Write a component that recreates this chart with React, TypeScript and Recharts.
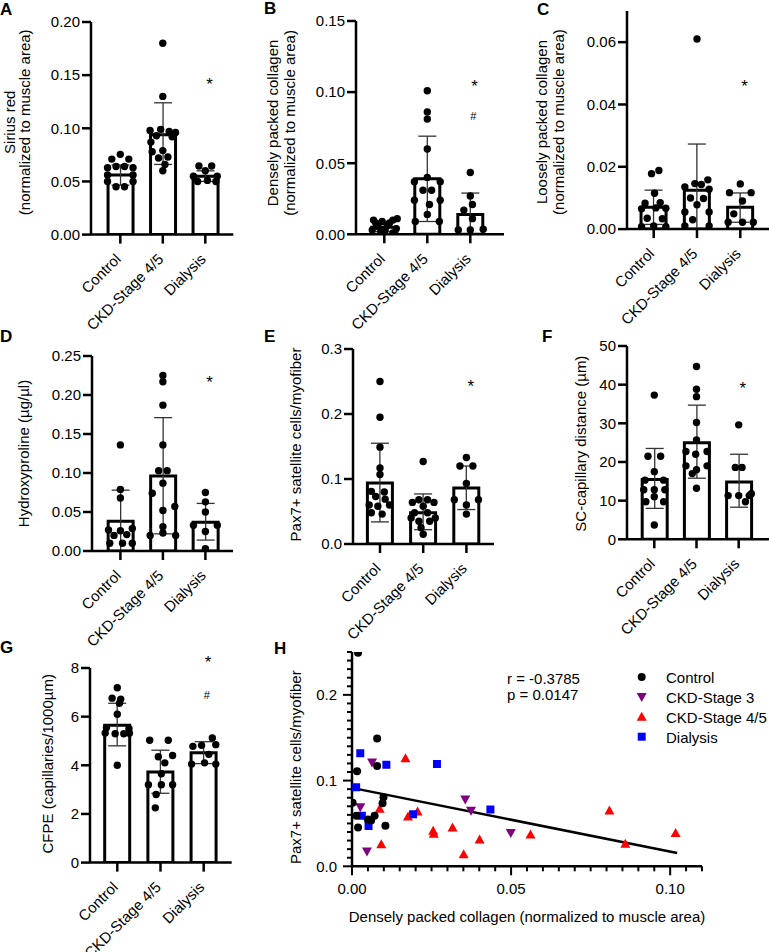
import React from 'react';
import { ComposedChart, Bar, ErrorBar, Scatter, XAxis, YAxis, Label, ReferenceLine, ReferenceDot } from 'recharts';

type Pt = [number, number];

const FONT = '"Liberation Sans", Arial, Helvetica, sans-serif';
const CATEGORIES = ['Control', 'CKD-Stage 4/5', 'Dialysis'];

// ---------- Panel A: Sirius red ----------
const A_MEAN = [0.056, 0.094, 0.055];
const A_LO = [0.0095, 0.028, 0.005];
const A_HI = [0.0095, 0.030, 0.005];
const A_CONTROL: Pt[] = [[0, 0.0755], [-0.2, 0.071], [0.2, 0.071], [-0.3, 0.063], [-0.1, 0.064], [0.1, 0.064], [0.3, 0.063], [-0.3, 0.056], [0.3, 0.056], [-0.3, 0.05], [0.3, 0.05], [-0.1, 0.045], [0.1, 0.045]];
const A_CKD: Pt[] = [[0, 0.18], [0, 0.13], [-0.3, 0.098], [-0.05, 0.099], [0.15, 0.097], [0.3, 0.096], [-0.15, 0.093], [0.22, 0.092], [-0.28, 0.087], [-0.25, 0.078], [0, 0.079], [-0.1, 0.072], [0.12, 0.073], [0.05, 0.066], [0, 0.06]];
const A_DIAL: Pt[] = [[-0.15, 0.0645], [0.15, 0.0645], [0, 0.06], [-0.28, 0.055], [0.28, 0.055], [-0.18, 0.05], [0.05, 0.051], [0.25, 0.05]];
const A_MARKS = [{ x: 2.1, y: 0.145, t: '*' }];

// ---------- Panel B: Densely packed collagen ----------
const B_MEAN = [0.005, 0.039, 0.014];
const B_LO = [0.003, 0.03, 0.014];
const B_HI = [0.003, 0.03, 0.015];
const B_CONTROL: Pt[] = [[-0.25, 0.01], [-0.05, 0.009], [0.2, 0.01], [0.3, 0.011], [-0.15, 0.0055], [0.08, 0.0065], [-0.28, 0.003], [-0.08, 0.002], [0.2, 0.001], [0.02, 0.0035], [0.28, 0.004], [-0.2, 0.008], [0.12, 0.008], [0, 0.001]];
const B_CKD: Pt[] = [[0, 0.101], [0, 0.086], [0, 0.081], [0, 0.06], [0, 0.04], [-0.3, 0.037], [0.3, 0.037], [-0.1, 0.031], [0.1, 0.031], [-0.3, 0.024], [0.3, 0.024], [0.05, 0.021], [0, 0.014], [-0.28, 0.009], [0.28, 0.009]];
const B_DIAL: Pt[] = [[0, 0.0435], [0, 0.027], [0.05, 0.021], [-0.15, 0.017], [0.05, 0.011], [-0.28, 0.003], [0, 0.003], [0.3, 0.0035]];
const B_MARKS = [{ x: 2.1, y: 0.107, t: '*' }, { x: 2.07, y: 0.083, t: '#' }];

// ---------- Panel C: Loosely packed collagen ----------
const C_MEAN = [0.007, 0.0125, 0.007];
const C_LO = [0.0055, 0.0125, 0.0048];
const C_HI = [0.0055, 0.0148, 0.0046];
const C_CONTROL: Pt[] = [[-0.05, 0.0178], [0.12, 0.0188], [0.02, 0.0115], [-0.2, 0.0083], [0.15, 0.0085], [-0.28, 0.0065], [0.05, 0.0068], [0.28, 0.0067], [-0.15, 0.0035], [0.2, 0.0033], [-0.28, 0.0008], [0, 0.001], [0.28, 0.0008]];
const C_CKD: Pt[] = [[0, 0.061], [0.25, 0.0158], [-0.05, 0.0146], [0.1, 0.0143], [-0.28, 0.0135], [0.28, 0.0128], [-0.15, 0.01], [0.15, 0.0098], [0, 0.0078], [-0.28, 0.0055], [0.28, 0.0055], [-0.1, 0.003], [-0.28, 0.001], [0.28, 0.001]];
const C_DIAL: Pt[] = [[0, 0.0145], [-0.25, 0.0117], [0.25, 0.0117], [0.05, 0.009], [-0.15, 0.0049], [-0.28, 0.0022], [0.05, 0.0022], [0.3, 0.0022]];
const C_MARKS = [{ x: 2.1, y: 0.047, t: '*' }];

// ---------- Panel D: Hydroxyproline ----------
const D_MEAN = [0.038, 0.096, 0.037];
const D_LO = [0.038, 0.074, 0.023];
const D_HI = [0.04, 0.075, 0.024];
const D_CONTROL: Pt[] = [[0, 0.136], [0, 0.079], [0, 0.068], [-0.28, 0.027], [0, 0.026], [0.28, 0.029], [-0.15, 0.02], [0.15, 0.021], [-0.25, 0.01], [0.28, 0.01], [0.05, 0.01]];
const D_CKD: Pt[] = [[0, 0.225], [0, 0.217], [0, 0.187], [0, 0.136], [-0.1, 0.103], [0.1, 0.103], [0, 0.087], [-0.25, 0.074], [0.28, 0.057], [0, 0.052], [0, 0.031], [-0.3, 0.02], [0, 0.023], [0.3, 0.02]];
const D_DIAL: Pt[] = [[0, 0.075], [0, 0.063], [0, 0.05], [-0.28, 0.033], [0.28, 0.033], [0, 0.025], [0, 0.003]];
const D_MARKS = [{ x: 2.1, y: 0.222, t: '*' }];

// ---------- Panel E: Pax7+ satellite cells ----------
const E_MEAN = [0.094, 0.048, 0.086];
const E_LO = [0.06, 0.026, 0.033];
const E_HI = [0.061, 0.029, 0.034];
const E_CONTROL: Pt[] = [[0, 0.25], [0, 0.195], [0, 0.149], [0, 0.117], [0, 0.107], [-0.2, 0.081], [0.1, 0.08], [-0.1, 0.073], [0.12, 0.069], [-0.25, 0.06], [-0.05, 0.058], [0.22, 0.06], [-0.2, 0.048], [0.05, 0.046]];
const E_CKD: Pt[] = [[0, 0.127], [-0.1, 0.068], [0.1, 0.068], [-0.25, 0.064], [0.25, 0.064], [0, 0.058], [-0.2, 0.048], [0.1, 0.048], [-0.28, 0.04], [0.28, 0.04], [-0.1, 0.035], [0.15, 0.035], [-0.05, 0.025], [0, 0.015]];
const E_DIAL: Pt[] = [[0, 0.133], [-0.15, 0.12], [0.15, 0.12], [0, 0.093], [-0.28, 0.068], [0.28, 0.068], [0, 0.06], [0, 0.046]];
const E_MARKS = [{ x: 2.1, y: 0.248, t: '*' }];

// ---------- Panel F: SC-capillary distance ----------
const F_MEAN = [15.5, 25, 14.8];
const F_LO = [7.5, 9.2, 6.5];
const F_HI = [8, 9.7, 7.2];
const F_CONTROL: Pt[] = [[0, 37.3], [-0.15, 21.5], [0.15, 21.5], [0, 17.5], [-0.22, 15.3], [0.22, 15.3], [-0.25, 12.8], [0, 12.8], [0.25, 12.8], [0, 11], [-0.2, 9.7], [0.22, 9.7], [0, 3.7]];
const F_CKD: Pt[] = [[0, 44.7], [0, 38.8], [0, 36.9], [0, 30.2], [0, 25.7], [-0.25, 22.7], [0.25, 22.7], [-0.02, 22], [-0.25, 19], [0.25, 19], [0, 18], [-0.1, 17], [0, 13.2]];
const F_DIAL: Pt[] = [[0, 29.6], [-0.08, 18.6], [0.08, 18.6], [-0.25, 11.3], [0, 11.3], [0.25, 11.3], [0.16, 9.7], [0.3, 11.8]];
const F_MARKS = [{ x: 2.1, y: 40, t: '*' }];

// ---------- Panel G: CFPE ----------
const G_MEAN = [5.65, 3.72, 4.52];
const G_LO = [0.85, 0.87, 0.45];
const G_HI = [0.9, 0.9, 0.45];
const G_CONTROL: Pt[] = [[0, 7.19], [-0.12, 6.76], [0.08, 6.72], [0.05, 6.55], [0, 6.1], [-0.25, 5.55], [0.27, 5.5], [-0.28, 5.33], [-0.05, 5.3], [0.15, 5.3], [0.28, 5.32], [0, 4.0]];
const G_CKD: Pt[] = [[-0.25, 5.03], [0.18, 5.03], [0.28, 4.4], [-0.05, 4.35], [0.1, 4.1], [0.02, 3.65], [-0.28, 3.2], [0.02, 3.2], [0.28, 3.2], [-0.1, 2.8], [-0.12, 2.25]];
const G_DIAL: Pt[] = [[-0.25, 4.78], [-0.05, 4.82], [0.2, 5.12], [0.28, 4.85], [-0.28, 4.05], [0.02, 4.1], [0.28, 4.05], [0.12, 4.45]];
const G_MARKS = [{ x: 2.1, y: 8.4, t: '*' }, { x: 2.07, y: 6.9, t: '#' }];

// ---------- Panel H: correlation ----------
const H_CONTROL = [
  { x: 0.0019, y: 0.249 }, { x: 0.0079, y: 0.149 }, { x: 0.0079, y: 0.117 }, { x: 0.0016, y: 0.111 },
  { x: 0.0099, y: 0.0806 }, { x: 0.0096, y: 0.0736 }, { x: 0.0002, y: 0.074 }, { x: 0.0014, y: 0.059 },
  { x: 0.0071, y: 0.059 }, { x: 0.006, y: 0.0535 }, { x: 0.005, y: 0.0547 }, { x: 0.0019, y: 0.0453 },
  { x: 0.0105, y: 0.0473 },
];
const H_CKD3 = [
  { x: 0.0063, y: 0.121 }, { x: 0.0026, y: 0.069 }, { x: 0.0356, y: 0.078 }, { x: 0.0374, y: 0.0648 },
  { x: 0.0499, y: 0.0388 }, { x: 0.0047, y: 0.0174 },
];
const H_CKD45 = [
  { x: 0.0087, y: 0.067 }, { x: 0.0092, y: 0.0256 }, { x: 0.0168, y: 0.126 }, { x: 0.0176, y: 0.058 },
  { x: 0.0206, y: 0.064 }, { x: 0.0255, y: 0.0415 }, { x: 0.0257, y: 0.038 }, { x: 0.0316, y: 0.0453 },
  { x: 0.0351, y: 0.014 }, { x: 0.0401, y: 0.0314 }, { x: 0.0561, y: 0.037 }, { x: 0.0809, y: 0.065 },
  { x: 0.0859, y: 0.0264 }, { x: 0.1017, y: 0.0388 },
];
const H_DIAL = [
  { x: 0.0026, y: 0.132 }, { x: 0.0108, y: 0.1186 }, { x: 0.0267, y: 0.1194 }, { x: 0.0013, y: 0.0922 },
  { x: 0.0031, y: 0.059 }, { x: 0.0052, y: 0.0469 }, { x: 0.0192, y: 0.0608 }, { x: 0.0435, y: 0.0663 },
];
const H_FIT = [{ x: 0, y: 0.0915 }, { x: 0.1022, y: 0.0155 }];
const H_XTICKS = [0, 0.005, 0.01, 0.015, 0.02, 0.025, 0.03, 0.035, 0.04, 0.045, 0.05, 0.055, 0.06, 0.065, 0.07, 0.075, 0.08, 0.085, 0.09, 0.095, 0.1, 0.105, 0.11];
const H_XMAJOR = [0, 0.05, 0.1];
const H_YTICKS = [0, 0.01, 0.02, 0.03, 0.04, 0.05, 0.06, 0.07, 0.08, 0.09, 0.1, 0.11, 0.12, 0.13, 0.14, 0.15, 0.16, 0.17, 0.18, 0.19, 0.2, 0.21, 0.22, 0.23, 0.24, 0.25];
const H_YMAJOR = [0, 0.1, 0.2];
const H_STATS = ['r = -0.3785', 'p = 0.0147'];
const H_LEGEND = [
  { name: 'Control', color: '#000000', shape: 'circle' },
  { name: 'CKD-Stage 3', color: '#800080', shape: 'down' },
  { name: 'CKD-Stage 4/5', color: '#ff0000', shape: 'up' },
  { name: 'Dialysis', color: '#0000ff', shape: 'square' },
];

// ---------- layout ----------
const YW = 100, TP = 20, XH = 110;
const AX = { stroke: '#000', strokeWidth: 2.5 };

const PANELS: any = {
  A: { x0: 90.7, x1: 233, c0: 120, c2: 205, yt: 21.7, yb: 234.3, yd: [0, 0.2], yt_: [0, 0.05, 0.1, 0.15, 0.2], dec: 2, rp: 6,
    title: ['Sirius red', '(normalized to muscle area)'], toff: [-76, -61], tshift: -6 },
  B: { x0: 356, x1: 504, c0: 384.3, c2: 470.3, yt: 21, yb: 234.3, yd: [0, 0.15], yt_: [0, 0.05, 0.1, 0.15], dec: 2, rp: 6,
    title: ['Densely packed collagen', '(normalized to muscle area)'], toff: [-78, -61], tshift: -4.7 },
  C: { x0: 627, x1: 769, c0: 653.7, c2: 740.3, yt: 10.6, yb: 228.7, yd: [0, 0.07], yt_: [0, 0.02, 0.04, 0.06], dec: 2, rp: 0,
    title: ['Loosely packed collagen', '(normalized to muscle area)'], toff: [-80, -63], tshift: 2 },
  D: { x0: 92.3, x1: 233.3, c0: 120.7, c2: 205.7, yt: 356, yb: 551, yd: [0, 0.25], yt_: [0, 0.05, 0.1, 0.15, 0.2, 0.25], dec: 2, rp: 6,
    title: ['Hydroxyproline (µg/µl)'], toff: [-63], tshift: 0 },
  E: { x0: 353.3, x1: 494.3, c0: 380.3, c2: 466.7, yt: 349.3, yb: 544.3, yd: [0, 0.3], yt_: [0, 0.1, 0.2, 0.3], dec: 1, rp: 6,
    title: ['Pax7+ satellite cells/myofiber'], toff: [-52], tshift: -2 },
  F: { x0: 627, x1: 769, c0: 654.3, c2: 738.7, yt: 346, yb: 539.3, yd: [0, 50], yt_: [0, 10, 20, 30, 40, 50], dec: 0, rp: 0,
    title: ['SC-capillary distance (µm)'], toff: [-41.5], tshift: 1 },
  G: { x0: 90, x1: 231.7, c0: 117.3, c2: 203.7, yt: 667.7, yb: 862.3, yd: [0, 8], yt_: [0, 2, 4, 6, 8], dec: 0, rp: 6, xh: 89.7,
    title: ['CFPE (capillaries/1000µm)'], toff: [-37], tshift: -1.5 },
};
const H_CFG = { x0: 351.7, x1: 701.7, yt: 651.7, yb: 866, rp: 10 };

function CatTick(props: any) {
  const { x, y, payload } = props;
  const tx = x + 1.5, ty = y + 16.5;
  return (
    <text x={tx} y={ty} transform={`rotate(-45 ${tx} ${ty})`} textAnchor="end" fontSize={15} fill="#000" fontFamily={FONT}>
      {payload.value}
    </text>
  );
}

const DotShape = (p: any) => <circle cx={p.cx} cy={p.cy} r={3.7} fill="#000" />;

const markShape = (t: string) => (p: any) => {
  const fs = t === '*' ? 17 : 11;
  const dy = t === '*' ? 0.57 * fs : 0.36 * fs;
  return (
    <text x={p.cx} y={p.cy + dy} textAnchor="middle" fontSize={fs} fill="#000" fontFamily={FONT}>
      {t}
    </text>
  );
};

function BarPanel({ cfg, mean, lo, hi, groups, marks }: any) {
  const plotW = cfg.x1 - cfg.x0;
  const plotH = cfg.yb - cfg.yt;
  const xh = cfg.xh || XH;
  const s = (cfg.c2 - cfg.c0) / 2;
  const xd = [-(cfg.c0 - cfg.x0) / s, 2 + (cfg.x1 - cfg.c2) / s];
  const padL = cfg.c0 - cfg.x0 - s / 2;
  const padR = cfg.x1 - cfg.c2 - s / 2;
  const bars = mean.map((m: number, i: number) => ({ name: CATEGORIES[i], x: i, mean: m, err: [lo[i], hi[i]] }));
  const dots = groups.flatMap((g: Pt[], i: number) => g.map(([dx, y]) => ({ x: i + dx, y })));
  const midY = TP + plotH / 2 + cfg.tshift;
  const title = () => (
    <g>
      {cfg.title.map((line: string, k: number) => {
        const bx = YW + cfg.toff[k];
        return (
          <text key={k} transform={`translate(${bx},${midY}) rotate(-90)`} textAnchor="middle" fontSize={15} fill="#000" fontFamily={FONT}>
            {line}
          </text>
        );
      })}
    </g>
  );
  return (
    <div style={{ position: 'absolute', left: cfg.x0 - YW, top: cfg.yt - TP }}>
      <ComposedChart width={YW + plotW + cfg.rp} height={TP + plotH + xh} data={bars} margin={{ top: TP, right: cfg.rp, bottom: 0, left: 0 }}>
        <XAxis xAxisId="cat" type="category" dataKey="name" padding={{ left: padL, right: padR }} interval={0} height={xh}
          axisLine={AX} tickLine={AX} tickSize={9} tickMargin={0} tick={<CatTick />} />
        <XAxis xAxisId="num" type="number" dataKey="x" domain={xd} allowDataOverflow hide />
        <YAxis type="number" domain={cfg.yd} ticks={cfg.yt_} interval={0} allowDataOverflow width={YW}
          axisLine={AX} tickLine={AX} tickSize={9} tickMargin={2}
          tick={{ fill: '#000', fontSize: 15, fontFamily: FONT }}
          tickFormatter={(v: number) => v.toFixed(cfg.dec)}>
          <Label content={title} />
        </YAxis>
        <Bar xAxisId="cat" dataKey="mean" fill="#fff" stroke="#000" strokeWidth={3} barSize={25} isAnimationActive={false}>
          <ErrorBar dataKey="err" width={9} stroke="#333" strokeWidth={1.3} direction="y" />
        </Bar>
        <Scatter xAxisId="num" data={dots} dataKey="y" shape={DotShape} isAnimationActive={false} />
        {marks.map((m: any, i: number) => (
          <ReferenceDot key={i} xAxisId="num" x={m.x} y={m.y} r={0} ifOverflow="visible" shape={markShape(m.t)} />
        ))}
      </ComposedChart>
    </div>
  );
}

function HXTick(props: any) {
  const { x, y, payload } = props;
  const v = payload.value;
  const major = H_XMAJOR.some((m) => Math.abs(m - v) < 1e-9);
  return (
    <g>
      <line x1={x} x2={x} y1={y} y2={y + (major ? 9 : 5)} stroke="#000" strokeWidth={2} />
      {major && (
        <text x={x} y={y + 27.5} textAnchor="middle" fontSize={15} fill="#000" fontFamily={FONT}>{v.toFixed(2)}</text>
      )}
    </g>
  );
}

function HYTick(props: any) {
  const { x, y, payload } = props;
  const v = payload.value;
  const major = H_YMAJOR.some((m) => Math.abs(m - v) < 1e-9);
  return (
    <g>
      <line x1={x - (major ? 9 : 5)} x2={x} y1={y} y2={y} stroke="#000" strokeWidth={2} />
      {major && (
        <text x={x - 15} y={y} dy="0.355em" textAnchor="end" fontSize={15} fill="#000" fontFamily={FONT}>{v.toFixed(1)}</text>
      )}
    </g>
  );
}

function markerPath(shape: string, cx: number, cy: number) {
  if (shape === 'up') return `M${cx},${cy - 5} L${cx + 5},${cy + 4} L${cx - 5},${cy + 4} Z`;
  if (shape === 'down') return `M${cx},${cy + 5} L${cx + 5},${cy - 4} L${cx - 5},${cy - 4} Z`;
  if (shape === 'square') return `M${cx - 4},${cy - 4} h8 v8 h-8 Z`;
  return '';
}

const mkShape = (shape: string, color: string) => (p: any) =>
  shape === 'circle' ? <circle cx={p.cx} cy={p.cy} r={4} fill={color} /> : <path d={markerPath(shape, p.cx, p.cy)} fill={color} />;

function PanelH() {
  const c = H_CFG;
  const plotW = c.x1 - c.x0;
  const plotH = c.yb - c.yt;
  const yTitle = () => (
    <text transform={`translate(${YW - 50.7},${TP + plotH / 2 + 8}) rotate(-90)`} textAnchor="middle" fontSize={15} fill="#000" fontFamily={FONT}>
      Pax7+ satellite cells/myofiber
    </text>
  );
  const xTitle = () => (
    <text x={YW + plotW / 2} y={TP + plotH + 56} textAnchor="middle" fontSize={15} fill="#000" fontFamily={FONT}>
      Densely packed collagen (normalized to muscle area)
    </text>
  );
  return (
    <div style={{ position: 'absolute', left: c.x0 - YW, top: c.yt - TP }}>
      <ComposedChart width={YW + plotW + c.rp} height={TP + plotH + 80} margin={{ top: TP, right: c.rp, bottom: 0, left: 0 }}>
        <XAxis type="number" dataKey="x" domain={[0, 0.11]} ticks={H_XTICKS} interval={0} allowDataOverflow height={80}
          axisLine={AX} tickLine={false} tickSize={0} tickMargin={0} tick={<HXTick />}>
          <Label content={xTitle} />
        </XAxis>
        <YAxis type="number" dataKey="y" domain={[0, 0.25]} ticks={H_YTICKS} interval={0} allowDataOverflow width={YW}
          axisLine={AX} tickLine={false} tickSize={0} tickMargin={0} tick={<HYTick />}>
          <Label content={yTitle} />
        </YAxis>
        <ReferenceLine segment={H_FIT} stroke="#000" strokeWidth={2.5} />
        <Scatter data={H_CKD45} shape={mkShape('up', H_LEGEND[2].color)} isAnimationActive={false} />
        <Scatter data={H_CKD3} shape={mkShape('down', H_LEGEND[1].color)} isAnimationActive={false} />
        <Scatter data={H_DIAL} shape={mkShape('square', H_LEGEND[3].color)} isAnimationActive={false} />
        <Scatter data={H_CONTROL} shape={mkShape('circle', H_LEGEND[0].color)} isAnimationActive={false} />
      </ComposedChart>
    </div>
  );
}

const LETTERS = [
  { t: 'A', x: 0, y: 15 }, { t: 'B', x: 264, y: 14 }, { t: 'C', x: 537, y: 15 },
  { t: 'D', x: 0, y: 342 }, { t: 'E', x: 264, y: 342 }, { t: 'F', x: 542, y: 342 },
  { t: 'G', x: 0, y: 653 }, { t: 'H', x: 274, y: 654 },
];

export default function App() {
  return (
    <div style={{ position: 'absolute', left: 0, top: 0, width: 769, height: 952, background: '#fff', fontFamily: FONT, overflow: 'hidden' }}>
      <svg width={769} height={952} style={{ position: 'absolute', left: 0, top: 0 }}>
        {LETTERS.map((l) => (
          <text key={l.t} x={l.x} y={l.y} fontSize={17} fontWeight="bold" fill="#000" fontFamily={FONT}>{l.t}</text>
        ))}
        {H_STATS.map((s, i) => (
          <text key={s} x={507} y={684 + i * 16} fontSize={15} fill="#000" fontFamily={FONT}>{s}</text>
        ))}
        {H_LEGEND.map((l, i) => {
          const cy = 677 + i * 19.9;
          return (
            <g key={l.name}>
              {l.shape === 'circle' ? <circle cx={641.7} cy={cy} r={4} fill={l.color} /> : <path d={markerPath(l.shape, 641.7, cy)} fill={l.color} />}
              <text x={666} y={cy + 6} fontSize={15} fill="#000" fontFamily={FONT}>{l.name}</text>
            </g>
          );
        })}
      </svg>
      <BarPanel cfg={PANELS.A} mean={A_MEAN} lo={A_LO} hi={A_HI} groups={[A_CONTROL, A_CKD, A_DIAL]} marks={A_MARKS} />
      <BarPanel cfg={PANELS.B} mean={B_MEAN} lo={B_LO} hi={B_HI} groups={[B_CONTROL, B_CKD, B_DIAL]} marks={B_MARKS} />
      <BarPanel cfg={PANELS.C} mean={C_MEAN} lo={C_LO} hi={C_HI} groups={[C_CONTROL, C_CKD, C_DIAL]} marks={C_MARKS} />
      <BarPanel cfg={PANELS.D} mean={D_MEAN} lo={D_LO} hi={D_HI} groups={[D_CONTROL, D_CKD, D_DIAL]} marks={D_MARKS} />
      <BarPanel cfg={PANELS.E} mean={E_MEAN} lo={E_LO} hi={E_HI} groups={[E_CONTROL, E_CKD, E_DIAL]} marks={E_MARKS} />
      <BarPanel cfg={PANELS.F} mean={F_MEAN} lo={F_LO} hi={F_HI} groups={[F_CONTROL, F_CKD, F_DIAL]} marks={F_MARKS} />
      <BarPanel cfg={PANELS.G} mean={G_MEAN} lo={G_LO} hi={G_HI} groups={[G_CONTROL, G_CKD, G_DIAL]} marks={G_MARKS} />
      <PanelH />
    </div>
  );
}
